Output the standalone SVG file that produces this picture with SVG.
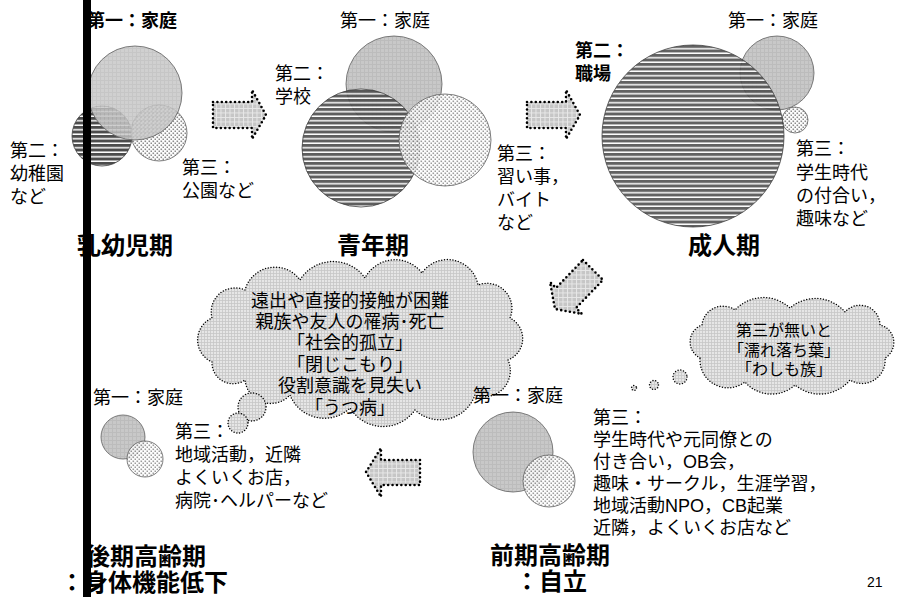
<svg xmlns="http://www.w3.org/2000/svg" width="901" height="597" viewBox="0 0 901 597">
<defs>
<pattern id="fam" width="4" height="4" patternUnits="userSpaceOnUse"><rect width="4" height="4" fill="#c8c8c8"/><path d="M0 0.5H4M0.5 0V4" stroke="#bcbcbc" stroke-width="1"/></pattern>
<pattern id="str" width="4.5" height="4.5" patternUnits="userSpaceOnUse"><rect width="4.5" height="4.5" fill="#ffffff"/><rect width="4.5" height="3" fill="#4c4c4c"/></pattern>
<pattern id="dot" width="4" height="4" patternUnits="userSpaceOnUse"><rect width="4" height="4" fill="#ffffff"/><rect x="0.5" y="0.5" width="1.6" height="1.6" fill="#8c8c8c"/><rect x="2.5" y="2.5" width="1.6" height="1.6" fill="#8c8c8c"/></pattern>
<pattern id="gridA" width="4.5" height="4.5" patternUnits="userSpaceOnUse"><rect width="4.5" height="4.5" fill="#c6c6c6"/><path d="M0 0.5H4.5M0.5 0V4.5" stroke="#e8e8e8" stroke-width="1"/></pattern>
<pattern id="gridC" width="3" height="3" patternUnits="userSpaceOnUse"><rect width="3" height="3" fill="#e6e6e6"/><path d="M0 0.5H3M0.5 0V3" stroke="#c6c6c6" stroke-width="0.8"/></pattern>
</defs>
<style>
.t{font-family:"Liberation Sans","Noto Sans CJK JP","Noto Sans CJK SC",sans-serif;font-size:18px;fill:#000}
.tb{font-family:"Liberation Sans","Noto Sans CJK JP","Noto Sans CJK SC",sans-serif;font-size:18px;font-weight:bold;fill:#000}
.h{font-family:"Liberation Sans","Noto Sans CJK JP","Noto Sans CJK SC",sans-serif;font-size:24px;font-weight:bold;fill:#000}
.c{font-family:"Liberation Sans","Noto Sans CJK JP","Noto Sans CJK SC",sans-serif;font-size:18px;fill:#000;text-anchor:middle}
.c2{font-family:"Liberation Sans","Noto Sans CJK JP","Noto Sans CJK SC",sans-serif;font-size:16px;fill:#000;text-anchor:middle}
.fam{fill:url(#fam);stroke:#606060;stroke-width:0.8}
.str{fill:url(#str);stroke:#404040;stroke-width:0.8}
.dot{fill:url(#dot);stroke:#606060;stroke-width:0.8}
.arrow{fill:url(#gridA);stroke:#000;stroke-width:2.6;stroke-dasharray:0 4.4;stroke-linecap:round;stroke-linejoin:round}
.cloud{fill:url(#gridC);stroke:#000;stroke-width:1.5;stroke-dasharray:0 2.8;stroke-linecap:round}
</style>

<g id="cloud-1">
<path class="cloud" d="M212,362 A24,24 0 0 1 212,318 A24,24 0 0 1 245,290 A31,31 0 0 1 300,280 A39,39 0 0 1 365,278 A34,34 0 0 1 422,273 A31,31 0 0 1 478,285 A25,25 0 0 1 510,318 A23,23 0 0 1 508,360 A26,26 0 0 1 475,395 A37,37 0 0 1 415,410 A39,39 0 0 1 350,408 A37,37 0 0 1 290,395 A26,26 0 0 1 245,380 A21,21 0 0 1 212,362 Z"/>
<circle class="cloud" cx="252" cy="407" r="14"/>
<circle class="cloud" cx="238" cy="423" r="10"/>
<text class="c"><tspan x="350" y="307">遠出や直接的接触が困難</tspan><tspan x="350" y="328">親族や友人の罹病･死亡</tspan><tspan x="350" y="349">「社会的孤立」</tspan><tspan x="350" y="371">「閉じこもり」</tspan><tspan x="350" y="392">役割意識を見失い</tspan><tspan x="350" y="414">「うつ病」</tspan></text>
</g>

<g id="cloud-2">
<path class="cloud" d="M700,358 A18,18 0 0 1 702,325 A21,21 0 0 1 735,310 A39,39 0 0 1 790,308 A39,39 0 0 1 845,312 A20,20 0 0 1 880,325 A18,18 0 0 1 885,358 A23,23 0 0 1 850,380 A39,39 0 0 1 795,385 A35,35 0 0 1 745,382 A28,28 0 0 1 700,358 Z"/>
<circle class="cloud" cx="680" cy="377" r="7"/>
<circle class="cloud" cx="654" cy="385" r="4.5"/>
<circle class="cloud" cx="634" cy="388" r="2.5"/>
<text class="c2"><tspan x="784" y="336">第三が無いと</tspan><tspan x="784" y="356">「濡れ落ち葉」</tspan><tspan x="784" y="375">「わしも族」</tspan></text>
</g>

<g id="stage-infant">
<circle class="str" cx="102" cy="136" r="30"/>
<circle class="dot" cx="159" cy="133" r="28"/>
<circle class="fam" cx="135" cy="93" r="47" fill-opacity="0.85"/>
<text class="tb" x="87" y="27">第一：家庭</text>
<text class="t"><tspan x="10" y="157">第二：</tspan><tspan x="10" y="180">幼稚園</tspan><tspan x="10" y="203">など</tspan></text>
<text class="t"><tspan x="182" y="174">第三：</tspan><tspan x="182" y="197">公園など</tspan></text>
<text class="h" x="77" y="254">乳幼児期</text>
</g>

<g id="stage-youth">
<circle class="fam" cx="394" cy="84" r="48"/>
<circle class="str" cx="361" cy="148" r="59" fill-opacity="0.9"/>
<circle class="dot" cx="445" cy="140" r="46" fill-opacity="0.85"/>
<text class="t" x="340" y="27">第一：家庭</text>
<text class="t"><tspan x="275" y="80">第二：</tspan><tspan x="275" y="103">学校</tspan></text>
<text class="t"><tspan x="497" y="160">第三：</tspan><tspan x="497" y="183">習い事，</tspan><tspan x="497" y="206">バイト</tspan><tspan x="497" y="229">など</tspan></text>
<text class="h" x="337" y="254">青年期</text>
</g>

<g id="stage-adult">
<circle class="fam" cx="777" cy="73" r="37"/>
<circle class="dot" cx="795" cy="120" r="13"/>
<circle class="str" cx="693" cy="136" r="91" fill-opacity="0.88"/>
<text class="t" x="728" y="27">第一：家庭</text>
<text class="tb"><tspan x="575" y="57">第二：</tspan><tspan x="575" y="80">職場</tspan></text>
<text class="t"><tspan x="796" y="155">第三：</tspan><tspan x="796" y="179">学生時代</tspan><tspan x="796" y="202">の付合い，</tspan><tspan x="796" y="225">趣味など</tspan></text>
<text class="h" x="688" y="254">成人期</text>
</g>

<g id="stage-early-elderly">
<circle class="fam" cx="513" cy="452" r="40"/>
<circle class="dot" cx="549" cy="481" r="26" fill-opacity="0.85"/>
<text class="t" x="473" y="402">第一：家庭</text>
<text class="t"><tspan x="593" y="424">第三：</tspan><tspan x="593" y="446">学生時代や元同僚との</tspan><tspan x="593" y="468">付き合い，OB会，</tspan><tspan x="593" y="490">趣味・サークル，生涯学習，</tspan><tspan x="593" y="512">地域活動NPO，CB起業</tspan><tspan x="593" y="534">近隣，よくいくお店など</tspan></text>
<text class="h"><tspan x="490" y="564">前期高齢期</tspan><tspan x="515" y="590">：自立</tspan></text>
</g>

<g id="stage-late-elderly">
<circle class="fam" cx="123" cy="437" r="22"/>
<circle class="dot" cx="145" cy="459" r="18" fill-opacity="0.85"/>
<text class="t" x="93" y="404">第一：家庭</text>
<text class="t"><tspan x="175" y="438">第三：</tspan><tspan x="175" y="461">地域活動，近隣</tspan><tspan x="175" y="484">よくいくお店，</tspan><tspan x="175" y="507">病院･ヘルパーなど</tspan></text>
<text class="h"><tspan x="86" y="565">後期高齢期</tspan><tspan x="60" y="591">：身体機能低下</tspan></text>
</g>

<g id="connectors">
<polygon class="arrow" points="213,102 252,102 252,90 266,115 252,139 252,128 213,128"/>
<polygon class="arrow" points="527,102 566,102 566,90 580,115 566,139 566,128 527,128"/>
<polygon class="arrow" points="583,260 603,280 576,308 582,314 555,309 550,282 556,288"/>
<polygon class="arrow" points="420,460 381,460 381,448 366,472 381,497 381,485 420,485"/>
</g>

<text x="867" y="587" style="font-family:'Liberation Sans',Arial,sans-serif;font-size:14px;fill:#000">21</text>
<rect id="bar" x="83" y="0" width="8" height="597" fill="#000"/>
</svg>
